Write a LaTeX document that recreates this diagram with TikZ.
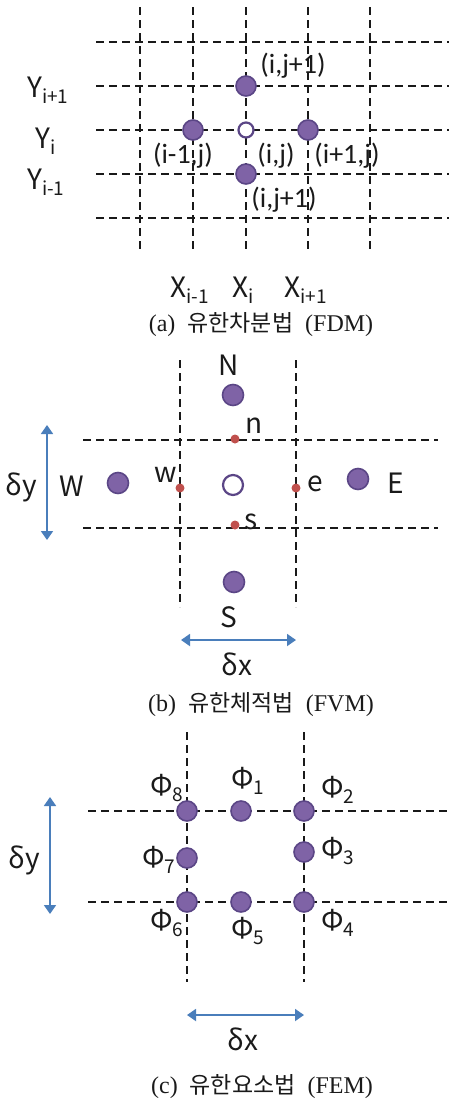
\documentclass[tikz,border=0pt]{standalone}
\usepackage{fontspec}
\setmainfont{Liberation Serif}
\newfontfamily\korfont{Noto Sans CJK KR}
\newfontfamily\calfont{Carlito}
\usetikzlibrary{arrows.meta}
\definecolor{dotfill}{HTML}{7F63A6}
\definecolor{dotline}{HTML}{5B4686}
\definecolor{reddot}{HTML}{C0504D}
\definecolor{arrowblue}{HTML}{4A7EBB}
\definecolor{txt}{HTML}{1A1A1A}
\newcommand{\lblfont}{\korfont\fontsize{28}{32}\selectfont}
\newcommand{\sbs}[1]{\raisebox{-6pt}{\fontsize{19}{22}\selectfont #1}}
\newcommand{\captxt}[3]{{\fontsize{24}{28}\selectfont #1}\hspace{12pt}{\korfont\fontsize{23}{28}\selectfont #2}\hspace{12pt}{\fontsize{24}{28}\selectfont #3}}
\tikzset{
  grid/.style={line width=2pt, dash pattern=on 8pt off 5pt, black!90},
  pdot/.style={circle, fill=dotfill, draw=dotline, line width=1.6pt, minimum size=20pt, inner sep=0pt},
  odot/.style={circle, fill=white, draw=dotline, line width=2.2pt, minimum size=#1, inner sep=0pt},
  odot/.default=15pt,
  rdot/.style={circle, fill=reddot, minimum size=9pt, inner sep=0pt},
  lab/.style={text=txt, inner sep=0pt, font=\lblfont},
  clab/.style={text=txt, inner sep=0pt, font=\calfont\fontsize{28}{32}\selectfont},
  capt/.style={text=txt, inner sep=0pt},
  dim/.style={draw=arrowblue, line width=1.8pt, {Triangle[length=9pt,width=12pt]}-{Triangle[length=9pt,width=12pt]}}
}
\begin{document}
\begin{tikzpicture}[x=1pt,y=-1pt]
\useasboundingbox (0,0) rectangle (449,1101);
% ---------------- (a) FDM ----------------
\foreach \x in {140,193,246,308,370} \draw[grid] (\x,7) -- (\x,253);
\foreach \y in {42,86,130,174,218} \draw[grid] (96,\y) -- (449,\y);
\node[pdot] (aN) at (246,86) {};
\node[pdot] (aW) at (193,130) {};
\node[pdot] (aE) at (308,130) {};
\node[odot] (aC) at (246,130) {};
\node[pdot] (aS) at (246,174) {};
\node[clab] (laN) at (293,66) {(i,j+1)};
\node[clab] (laW) at (183,156) {(i-1,j)};
\node[clab] (laC) at (276,156) {(i,j)};
\node[clab] (laE) at (347,156) {(i+1,j)};
\node[clab] (laS) at (284,200) {(i,j+1)};
\node[lab, anchor=base west] (ya) at (27,97) {Y\sbs{i+1}};
\node[lab, anchor=base west] (yb) at (35,148) {Y\sbs{i}};
\node[lab, anchor=base west] (yc) at (27,189) {Y\sbs{i-1}};
\node[lab, anchor=base west] (xa) at (170,297) {X\sbs{i-1}};
\node[lab, anchor=base west] (xb) at (232,297) {X\sbs{i}};
\node[lab, anchor=base west] (xc) at (284,297) {X\sbs{i+1}};
\node[capt] (capa) at (261,325) {\captxt{(a)}{유한차분법}{(FDM)}};
% ---------------- (b) FVM ----------------
\foreach \x in {180,296} \draw[grid] (\x,360) -- (\x,607);
\foreach \y in {440,528} \draw[grid] (83,\y) -- (438,\y);
\node[pdot, minimum size=21pt] (bN) at (233,395) {};
\node[pdot, minimum size=21pt] (bW) at (118,483) {};
\node[pdot, minimum size=21pt] (bE) at (358,479) {};
\node[pdot, minimum size=21pt] (bS) at (234,582) {};
\node[odot=20pt] (bP) at (233,485) {};
\node[rdot] (bn) at (235,439) {};
\node[rdot] (bw) at (180,488) {};
\node[rdot] (be) at (296,488) {};
\node[rdot] (bs) at (235,525) {};
\node[lab, anchor=base] (lbN) at (229,375) {N};
\node[lab, anchor=base] (lbn) at (254,433) {n};
\node[lab, anchor=base] (lbw) at (166,482) {w};
\node[lab, anchor=base] (lbe) at (315,491) {e};
\node[lab, anchor=base] (lbs) at (251,529) {s};
\node[lab, anchor=base] (lbW) at (72,496) {W};
\node[lab, anchor=base] (lbE) at (396,493) {E};
\node[lab, anchor=base] (lbS) at (229,627) {S};
\node[lab, anchor=base] (lbdy) at (21,495) {δy};
\node[lab, anchor=base] (lbdx) at (237,675) {δx};
\coordinate (bv1) at (47,425); \coordinate (bv2) at (47,540);
\coordinate (bh1) at (181,640); \coordinate (bh2) at (296,640);
\draw[dim] (bv1) -- (bv2);
\draw[dim] (bh1) -- (bh2);
\node[capt] (capb) at (261,705) {\captxt{(b)}{유한체적법}{(FVM)}};
% ---------------- (c) FEM ----------------
\foreach \x in {187,304} \draw[grid] (\x,732) -- (\x,982);
\foreach \y in {811,902} \draw[grid] (88,\y) -- (449,\y);
\node[pdot] (c8) at (187,811) {};
\node[pdot] (c1) at (241,811) {};
\node[pdot] (c2) at (304,811) {};
\node[pdot] (c7) at (187,858) {};
\node[pdot] (c3) at (304,852) {};
\node[pdot] (c6) at (187,902) {};
\node[pdot] (c5) at (241,902) {};
\node[pdot] (c4) at (304,902) {};
\node[lab, anchor=base west] (l8) at (150,795) {Φ\sbs{8}};
\node[lab, anchor=base west] (l1) at (231,788) {Φ\sbs{1}};
\node[lab, anchor=base west] (l2) at (321,797) {Φ\sbs{2}};
\node[lab, anchor=base west] (l7) at (142,867) {Φ\sbs{7}};
\node[lab, anchor=base west] (l3) at (321,858) {Φ\sbs{3}};
\node[lab, anchor=base west] (l6) at (150,930) {Φ\sbs{6}};
\node[lab, anchor=base west] (l5) at (231,938) {Φ\sbs{5}};
\node[lab, anchor=base west] (l4) at (321,930) {Φ\sbs{4}};
\node[lab, anchor=base] (lcdy) at (24,868) {δy};
\node[lab, anchor=base] (lcdx) at (243,1050) {δx};
\coordinate (cv1) at (50,797); \coordinate (cv2) at (50,914);
\coordinate (ch1) at (187,1015); \coordinate (ch2) at (304,1015);
\draw[dim] (cv1) -- (cv2);
\draw[dim] (ch1) -- (ch2);
\node[capt] (capc) at (262,1087) {\captxt{(c)}{유한요소법}{(FEM)}};
\end{tikzpicture}
\end{document}
